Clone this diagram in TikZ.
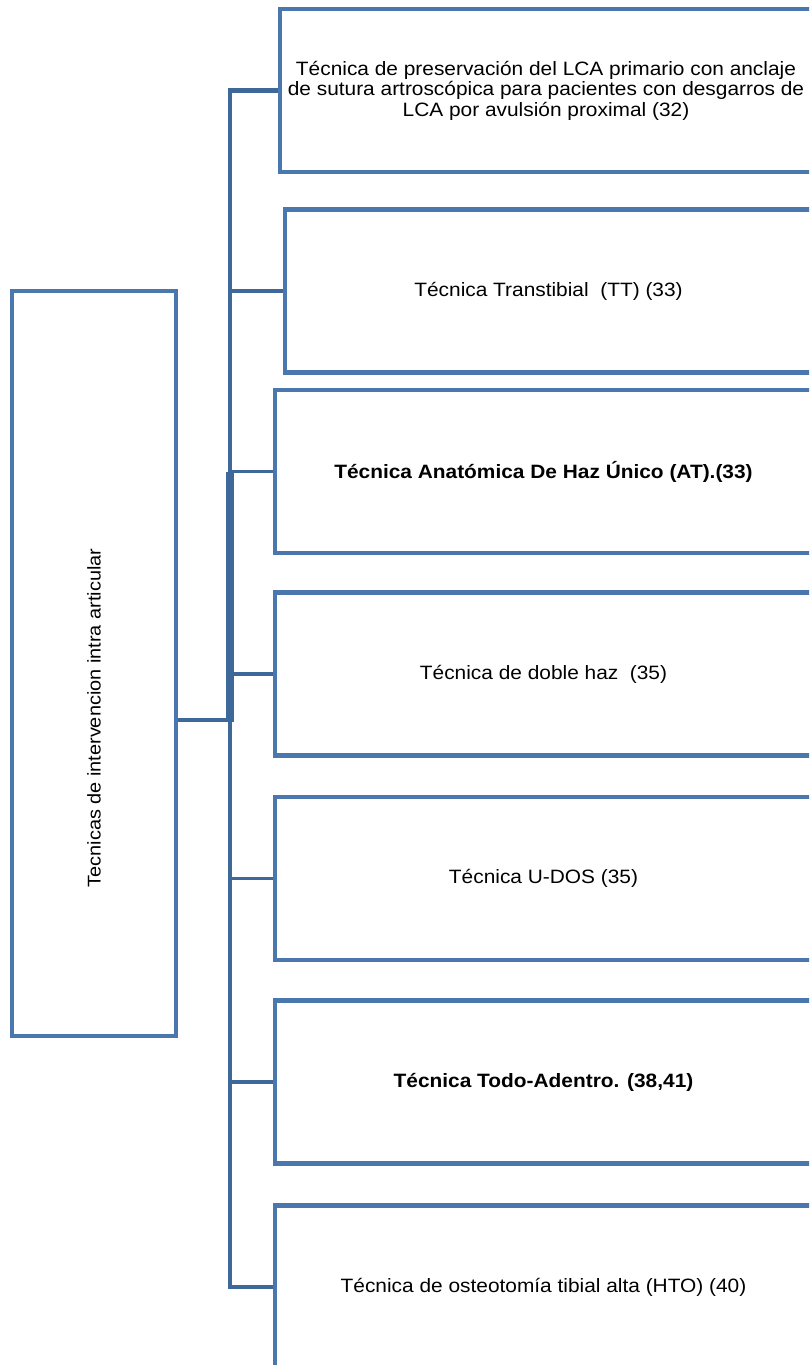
\documentclass[tikz,border=0pt]{standalone}
\usepackage{fontspec}
\setmainfont{Liberation Sans}
\newfontfamily\techfont{Liberation Sans}[FakeStretch=1.08]
\usepackage{tikz}
\usetikzlibrary{positioning, calc}
\definecolor{boxblue}{RGB}{74,119,173}
\definecolor{linkblue}{RGB}{62,103,154}
\tikzset{
  techbox/.style={rectangle, draw=boxblue, fill=white, line width=2.4pt,
    minimum height=3.26cm, minimum width=10.74cm, align=center,
    font=\techfont\fontsize{11}{11.7}\selectfont, inner sep=2pt},
  rootbox/.style={rectangle, draw=boxblue, fill=white, line width=2.4pt,
    minimum width=3.28cm, minimum height=14.9cm},
  link/.style={draw=linkblue, line width=2.1pt},
  trunk/.style={draw=linkblue, line width=2.4pt},
  bar/.style={draw=linkblue, line width=4.6pt}
}

\begin{document}
\begin{tikzpicture}[x=0.02cm, y=-0.02cm]
  \useasboundingbox (0,0) rectangle (809,1365);
  \clip (0,0) rectangle (809,1365);
  % Nodes
  \coordinate (hub) at (230,720);
  \node[rootbox] (root) at (94,663.5) {};
  \node[rotate=90, font=\techfont\fontsize{10.5}{11.7}\selectfont] (roottxt) at (94,718) {Tecnicas de intervencion intra articular};

  \node[techbox, minimum width=10.64cm] (pres) at (546,90.5) {Técnica de preservación del LCA primario con anclaje\\de sutura artroscópica para pacientes con desgarros de\\LCA por avulsión proximal (32)};
  \node[techbox, minimum width=10.54cm] (tt) at (548.5,291) {Técnica Transtibial~~(TT) (33)};
  \node[techbox] (anat) at (543.5,471.5) {\bfseries Técnica Anatómica De Haz Único (AT).(33)};
  \node[techbox] (doble) at (543.5,674) {Técnica de doble haz~~(35)};
  \node[techbox] (udos) at (543.5,878.5) {Técnica U-DOS (35)};
  \node[techbox] (todo) at (543.5,1082) {\bfseries Técnica Todo-Adentro. (38,41)};
  \node[techbox] (hto) at (543.5,1287) {Técnica de osteotomía tibial alta (HTO) (40)};

  % Connections
  \draw[trunk] (pres.west) -| (hto.west -| hub) -- (hto.west);
  \draw[bar] (anat.west -| hub) -- ($(hub)+(0,2)$);
  \draw[link] (root.east |- hub) -- (hub);
  \foreach \b in {tt,anat,doble,udos,todo}
    \draw[link] (\b.west -| hub) -- (\b.west);
\end{tikzpicture}
\end{document}
